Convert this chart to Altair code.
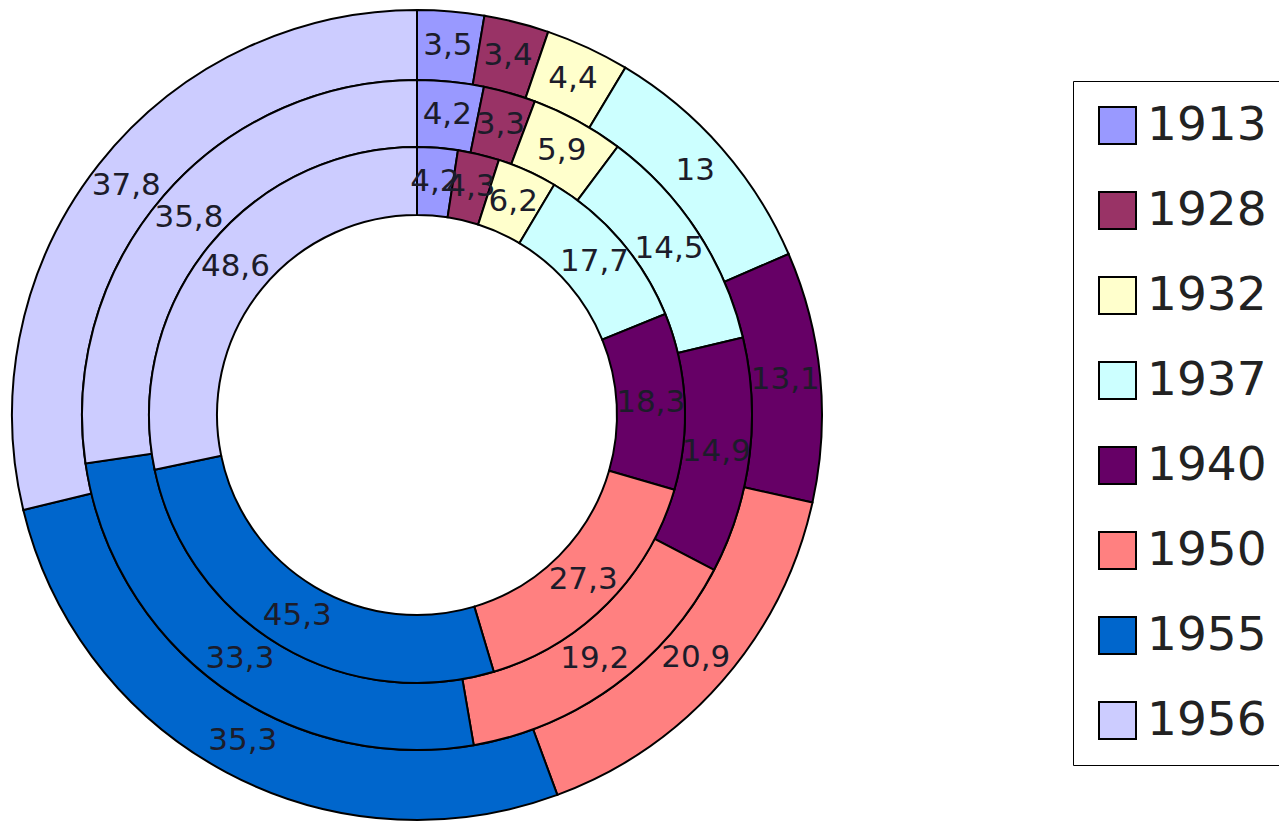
import math
import altair as alt
import pandas as pd

years = ["1913", "1928", "1932", "1937", "1940", "1950", "1955", "1956"]
outer_vals = [3.5, 3.4, 4.4, 13, 13.1, 20.9, 35.3, 37.8]
middle_vals = [4.2, 3.3, 5.9, 14.5, 14.9, 19.2, 33.3, 35.8]
inner_vals = [4.2, 4.3, 6.2, 17.7, 18.3, 27.3, 45.3, 48.6]
colors = ["#9999ff", "#993366", "#ffffcc", "#ccffff", "#660066", "#ff8080", "#0066cc", "#ccccff"]

rows = []
for ring, vals in (("outer", outer_vals), ("middle", middle_vals), ("inner", inner_vals)):
    for i, (y, v) in enumerate(zip(years, vals)):
        rows.append({"ring": ring, "year": y, "order": i, "value": v})
df = pd.DataFrame(rows)

CX, CY = 409, 407
ring_radii = {"outer": (335, 405), "middle": (268, 335), "inner": (200, 268)}

theta_scale = alt.Scale(domain=[0, 1], range=[0, 2 * math.pi])
color = alt.Color(
    "year:N",
    scale=alt.Scale(domain=years, range=colors),
    legend=alt.Legend(
        title=None,
        orient="none",
        legendX=1065,
        legendY=73,
        symbolType="square",
        symbolSize=1369,
        symbolStrokeColor="black",
        symbolStrokeWidth=2,
        symbolOpacity=1,
        labelFont="DejaVu Sans",
        labelFontSize=47,
        labelColor="#222222",
        labelOffset=6,
        rowPadding=37,
        padding=21,
        strokeColor="black",
        fillColor="white",
    ),
)

base = (
    alt.Chart(df)
    .transform_joinaggregate(total="sum(value)", groupby=["ring"])
    .transform_window(
        cum="sum(value)", groupby=["ring"], sort=[alt.SortField("order")], frame=[None, 0]
    )
    .transform_calculate(
        start="(datum.cum - datum.value) / datum.total",
        end="datum.cum / datum.total",
        mid="(datum.cum - datum.value / 2) / datum.total",
        label="replace(toString(datum.value), '.', ',')",
    )
)

layers = []
for ring, (r2, r) in ring_radii.items():
    arc = (
        base.transform_filter(alt.datum.ring == ring)
        .mark_arc(radius=r, radius2=r2, stroke="black", strokeWidth=2)
        .encode(
            theta=alt.Theta("start:Q", scale=theta_scale, stack=False),
            theta2="end:Q",
            color=color,
            x=alt.value(CX),
            y=alt.value(CY),
        )
    )
    layers.append(arc)

for ring, (r2, r) in ring_radii.items():
    txt = (
        base.transform_filter(alt.datum.ring == ring)
        .mark_text(
            radius=(r + r2) / 2,
            font="DejaVu Sans",
            fontSize=31,
            color="#1c1c2a",
            align="center",
            baseline="middle",
        )
        .encode(
            theta=alt.Theta("mid:Q", scale=theta_scale, stack=False),
            text="label:N",
            x=alt.value(CX),
            y=alt.value(CY),
        )
    )
    layers.append(txt)

chart = (
    alt.layer(*layers)
    .properties(width=1271, height=814, autosize="none", padding=0)
    .configure_view(stroke=None)
)

chart.save("out.html", embed_options={"renderer": "svg", "actions": False})
